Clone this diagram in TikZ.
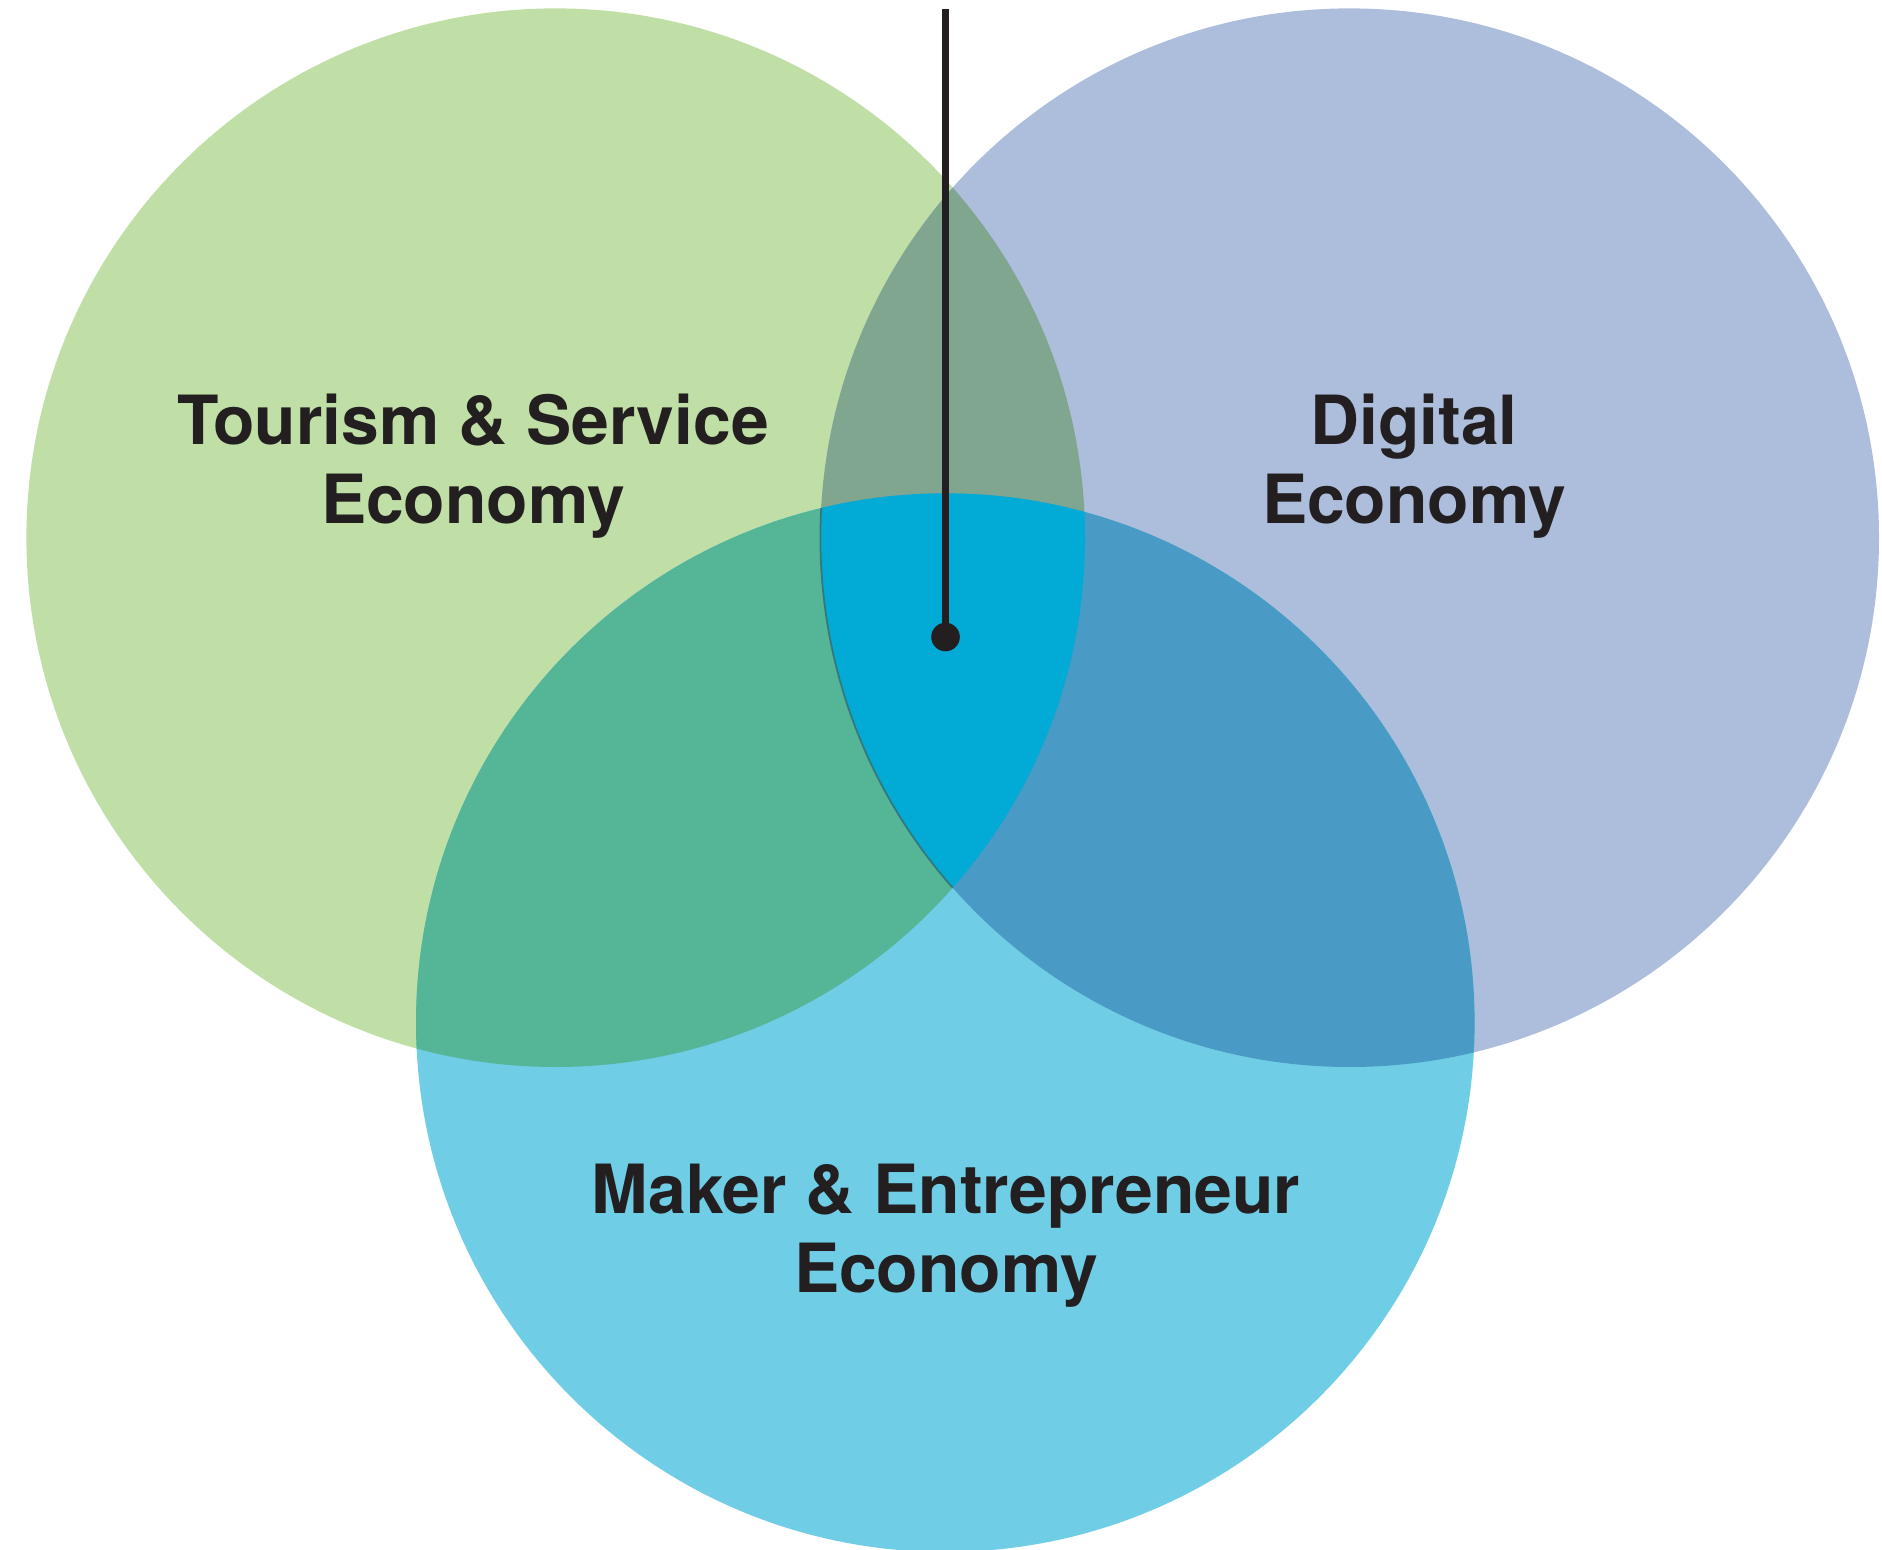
\documentclass[tikz,border=0pt]{standalone}
\usepackage{fontspec}
\setmainfont{TeX Gyre Heros}
\usetikzlibrary{positioning}

\definecolor{tourism}{RGB}{192,223,166}
\definecolor{digital}{RGB}{173,190,221}
\definecolor{maker}{RGB}{111,205,230}
\definecolor{tourdig}{RGB}{128,166,143}
\definecolor{tourmak}{RGB}{85,182,151}
\definecolor{digmak}{RGB}{74,154,198}
\definecolor{allthree}{RGB}{2,170,214}
\definecolor{seam}{RGB}{50,120,125}
\definecolor{ink}{RGB}{35,31,32}

\tikzset{
  label/.style={font=\fontsize{19.3}{22.4}\selectfont\bfseries, text=ink, align=center, inner sep=0pt},
  pin/.style={line width=2pt, draw=ink},
  hubdot/.style={circle, fill=ink, inner sep=0pt, minimum size=0.286cm}
}

\begin{document}
\begin{tikzpicture}
			%%%%% START %%%%%
			\useasboundingbox (0, 0) rectangle (18.82, 15.49);
			
			\def\rad{5.293}
			\coordinate (tc) at (5.557, 10.113);
			\coordinate (dc) at (13.497, 10.113);
			\coordinate (mc) at (9.453, 5.263);
			
			\fill[tourism] (tc) circle (\rad);
			\fill[digital] (dc) circle (\rad);
			\fill[maker] (mc) circle (\rad);
			
			% overlaps
			\begin{scope}
				\clip (tc) circle (\rad);
				\fill[tourdig] (dc) circle (\rad);
				\fill[tourmak] (mc) circle (\rad);
			\end{scope}
			\begin{scope}
				\clip (dc) circle (\rad);
				\fill[digmak] (mc) circle (\rad);
				\clip (mc) circle (\rad);
				\fill[allthree] (tc) circle (\rad);
			\end{scope}
			\begin{scope}
				\clip (tc) circle (\rad);
				\clip (mc) circle (\rad);
				\draw[seam, line width=0.5pt] (dc) circle (\rad);
			\end{scope}
			
			\node[label] (tourism) at (4.73, 10.83) {Tourism \& Service\\Economy};
			\node[label] (digital) at (14.14, 10.83) {Digital\\Economy};
			\node[label] (maker) at (9.46, 3.13) {Maker \& Entrepreneur\\Economy};
			
			\coordinate (top) at (9.455, 15.40);
			\node[hubdot] (hub) at (9.455, 9.12) {};
			\draw[pin] (hub.center) -- (top);
			
			%%%%% END %%%%%
\end{tikzpicture}
\end{document}
